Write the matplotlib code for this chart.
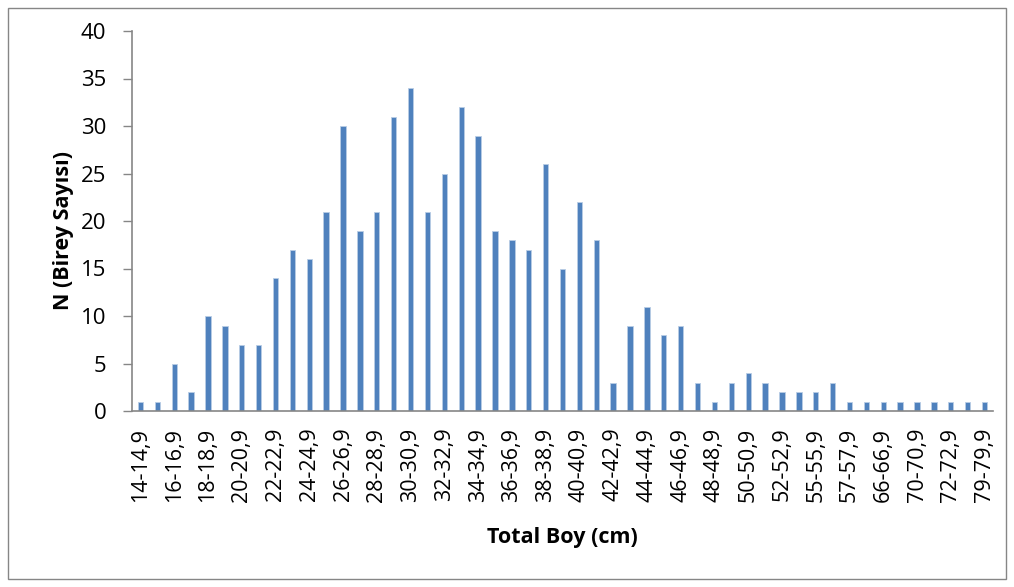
import matplotlib.pyplot as plt
import numpy as np
from matplotlib.patches import Rectangle

# Boy sınıfları (cm) - her ikinci etiket grafikte görünüyor
siniflar = ['14-14,9', '15-15,9', '16-16,9', '17-17,9', '18-18,9', '19-19,9',
            '20-20,9', '21-21,9', '22-22,9', '23-23,9', '24-24,9', '25-25,9',
            '26-26,9', '27-27,9', '28-28,9', '29-29,9', '30-30,9', '31-31,9',
            '32-32,9', '33-33,9', '34-34,9', '35-35,9', '36-36,9', '37-37,9',
            '38-38,9', '39-39,9', '40-40,9', '41-41,9', '42-42,9', '43-43,9',
            '44-44,9', '45-45,9', '46-46,9', '47-47,9', '48-48,9', '49-49,9',
            '50-50,9', '51-51,9', '52-52,9', '53-53,9', '55-55,9', '56-56,9',
            '57-57,9', '60-60,9', '66-66,9', '68-68,9', '70-70,9', '71-71,9',
            '72-72,9', '75-75,9', '79-79,9']

# Birey sayıları
birey = [1, 1, 5, 2, 10, 9, 7, 7, 14, 17, 16, 21, 30, 19, 21, 31, 34, 21,
         25, 32, 29, 19, 18, 17, 26, 15, 22, 18, 3, 9, 11, 8, 9, 3, 1, 3,
         4, 3, 2, 2, 2, 3, 1, 1, 1, 1, 1, 1, 1, 1, 1]

plt.rcParams['font.family'] = ['Open Sans', 'DejaVu Sans']

fig = plt.figure(figsize=(10.14, 5.87), dpi=100)
ax = fig.add_axes([132 / 1014, 1 - 411 / 587, (993 - 132) / 1014, (411 - 31) / 587])

x = np.arange(len(siniflar))
ax.bar(x, birey, width=0.32, color='#4F81BD', edgecolor='#B9CDE5', linewidth=0.6)

ax.set_xlim(-0.5, len(siniflar) - 0.5)
ax.set_ylim(0, 40)
ax.set_yticks(range(0, 41, 5))
ax.tick_params(axis='y', labelsize=16, length=6.5, width=1, color='#868686', pad=12)

ax.set_xticks(x[::2])
ax.set_xticklabels(siniflar[::2], rotation=90, fontsize=15.5)
ax.tick_params(axis='x', length=0, pad=12)

for s in ['top', 'right']:
    ax.spines[s].set_visible(False)
for s in ['left', 'bottom']:
    ax.spines[s].set_color('#868686')
    ax.spines[s].set_linewidth(1.2)

fig.text(562 / 1014, 1 - 537 / 587, 'Total Boy (cm)', ha='center', va='center',
         fontsize=15.5, fontweight='bold')
fig.text(63 / 1014, 1 - 230 / 587, 'N (Birey Sayısı)', ha='center', va='center',
         rotation=90, fontsize=15.5, fontweight='bold')

# Grafik çerçevesi
fig.patches.append(Rectangle((8 / 1014, 8 / 587), 998 / 1014, 571 / 587,
                             transform=fig.transFigure, fill=False,
                             edgecolor='#868686', linewidth=1))

fig.savefig('out.png', dpi=100)
